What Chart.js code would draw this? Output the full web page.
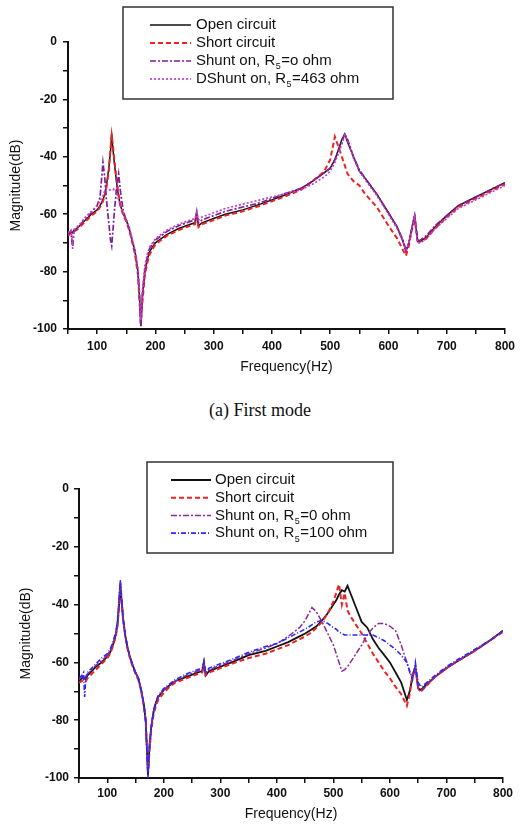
<!DOCTYPE html>
<html>
<head>
<meta charset="utf-8">
<script src="https://cdn.jsdelivr.net/npm/chart.js@4.4.0/dist/chart.umd.min.js"></script>
<style>
    body { margin: 0; background: #fff; width: 520px; height: 825px; overflow: hidden; position: relative; }
    .panel { position: absolute; left: 0; width: 520px; height: 385px; }
    #panelTop { top: 0; }
    #panelBottom { top: 440px; }
    #caption { position: absolute; top: 400px; left: 0; width: 520px; text-align: center; line-height: 22px;
               font: 18px "Liberation Serif", "Times New Roman", serif; color: #111; }
</style>
</head>
<body>
<div class="panel" id="panelTop"><canvas id="firstModeChart" width="520" height="385"></canvas></div>
<div id="caption">(a) First mode</div>
<div class="panel" id="panelBottom"><canvas id="secondModeChart" width="520" height="385"></canvas></div>
<script>
// ---- (a) first mode ----
const freqA = [50, 55, 58, 60, 65, 70, 80, 90, 100, 105, 110, 113, 116, 120, 123, 125, 127, 130, 134, 137,
    140, 145, 150, 155, 160, 165, 170, 173, 175, 178, 182, 186, 190, 200, 210, 220, 240, 260, 268, 271,
    274, 280, 300, 320, 350, 380, 400, 420, 450, 470, 490, 500, 508, 515, 520, 525, 530, 540, 550, 560,
    580, 600, 615, 625, 630, 635, 640, 645, 650, 655, 665, 680, 700, 720, 750, 780, 800];
const openA = [-67, -66, -66.5, -65.5, -65, -64, -62, -60, -58.5, -57, -55, -53, -50, -44, -38, -32, -37, -43, -50, -54,
    -57, -60, -62, -65, -69, -73, -80, -90, -99, -88, -80, -76, -73, -70, -68.5, -67, -65, -63.5, -63, -60,
    -64, -63, -61.5, -60, -58.5, -56.5, -55, -53.5, -51, -48.5, -45.5, -44, -41, -37, -34, -32, -35, -40, -45, -47.5,
    -53, -59.5, -64.5, -69.5, -73, -70, -65, -60.5, -69.5, -69.5, -68, -64.5, -60.5, -57, -54, -51, -49];
const shortA = [-67.5, -66.5, -66, -66, -65.5, -64.5, -62.5, -60.5, -59, -57.5, -55.5, -53.5, -50.5, -45, -37, -32.5, -36, -42, -49, -53.5,
    -57, -60.5, -62.5, -65.5, -69.5, -74, -81, -91, -98, -90, -81, -77, -74, -70.5, -69, -67.5, -65.5, -64, -63.5, -61,
    -64.5, -63.5, -62, -60.5, -59, -57, -55.5, -54, -51.5, -48.5, -45, -41, -33, -37, -40, -43, -46, -48.5, -50, -53,
    -57.5, -64, -68.5, -72.5, -74.5, -71, -65.5, -62, -69, -69.5, -68.5, -65, -61, -57.5, -54.5, -51.5, -49.5];
const shuntA = [-67, -66, -72, -66, -65, -64, -61.5, -59.5, -57, -54, -42, -47, -55, -63, -69, -71, -66, -58, -50, -46,
    -52, -59, -62, -65, -69, -73, -80, -90, -99, -87, -79, -75, -72, -69, -67.5, -66, -64, -62.5, -62, -59,
    -63, -62, -60.5, -59, -57.5, -56, -54.5, -53, -51, -48.5, -45.5, -44, -41, -37.5, -35, -32, -34, -40, -44.5, -47.5,
    -53, -59.5, -64.5, -69, -72.5, -70, -65, -60, -69.5, -69, -67.5, -64, -60.5, -57, -54, -51, -49];
const dshuntA = [-66.5, -65.5, -71, -65.5, -64.5, -63.5, -61, -59, -57, -55.5, -53.5, -52, -51, -51.5, -51.5, -51.5, -51.5, -51, -53, -55,
    -57, -60, -62, -64.5, -68.5, -72.5, -79, -88, -97, -86, -78, -74, -71.5, -68.5, -67, -65.5, -63.5, -62, -61.5, -59.5,
    -62, -61, -59.5, -58, -56.5, -55, -54, -53, -51.5, -49.5, -47, -45, -42, -38.5, -35.5, -32.5, -34.5, -40.5, -45, -48,
    -53.5, -60, -65, -69.5, -72.5, -70, -65, -60.5, -70, -70, -68.5, -65, -61.5, -58, -55, -52, -50];

// ---- second plot ----
const freqB = [50, 55, 58, 60, 62, 65, 70, 80, 90, 100, 105, 110, 115, 118, 121, 123, 125, 128, 132, 136,
    140, 145, 150, 155, 160, 165, 168, 172, 175, 178, 182, 186, 190, 200, 210, 220, 240, 260, 268, 271,
    274, 280, 300, 320, 350, 380, 400, 420, 440, 450, 462, 470, 480, 490, 500, 505, 510, 515, 520, 525,
    530, 540, 550, 560, 570, 580, 590, 600, 610, 620, 630, 635, 640, 645, 650, 655, 665, 680, 700, 720,
    750, 780, 800];
const openB = [-66.5, -65.5, -65, -65.5, -66, -64.5, -63.5, -61.5, -60, -58, -56.5, -54, -50.5, -47, -40, -33, -38, -45, -51, -55,
    -58, -61, -63.5, -65.5, -69.5, -75, -80, -99, -88, -82, -77, -74, -72, -69.5, -68, -66.5, -65, -63.5, -63, -60,
    -64.5, -63, -61.5, -60, -57.5, -56, -54.5, -53, -51, -50, -48.5, -47.5, -45.5, -43, -40, -38.5, -36.5, -35, -35.5, -33.5,
    -36, -41, -46, -48, -52, -55, -57.5, -60, -63.5, -67, -73, -70, -65, -61.5, -69, -69.5, -67.5, -65, -62, -59.5,
    -56, -52, -49];
const shortB = [-67, -66.5, -66, -66, -66.5, -65.5, -64.5, -62.5, -60.5, -58.5, -57, -54.5, -51, -47.5, -40, -32, -37, -45, -51, -55.5,
    -58.5, -61.5, -64, -66, -70, -75.5, -80, -97, -90, -83, -78, -75, -73, -70.5, -68.5, -67, -65.5, -64, -63.5, -61,
    -64.5, -63.5, -62, -60.5, -58.5, -57, -55.5, -54, -52, -51, -49.5, -48, -46, -43, -39, -36, -33, -40, -36, -42,
    -44, -47, -50, -53.5, -57, -60, -63, -65.5, -68.5, -71, -75, -71, -64, -62, -69, -70, -68, -65, -62, -59.5,
    -56, -52, -49.5];
const shuntB = [-66, -65, -64.5, -65, -65.5, -64, -63, -61, -59.5, -57.5, -56, -53.5, -50, -46.5, -39.5, -33, -38, -45, -51, -55,
    -58, -61, -63.5, -65.5, -69.5, -75, -80, -99, -88, -82, -77, -74, -72, -69.5, -68, -66.5, -64.5, -63, -62.5, -60,
    -64, -62.5, -61, -59.5, -57, -55, -53.5, -51, -48, -45.5, -41, -42.5, -46, -50, -54, -57, -60, -63, -62.5, -61.5,
    -60, -57, -54, -50.5, -48, -46.5, -46.5, -47.5, -49, -54, -60, -63.5, -65.5, -62, -69.5, -70, -68, -65, -62, -59.5,
    -56, -52, -49];
const shunt100B = [-65.5, -64.5, -63.5, -72, -65, -63.5, -62.5, -60.5, -58.5, -57, -55.5, -53, -49.5, -46, -38, -31.5, -37, -44.5, -50.5, -55,
    -58, -61, -63.5, -65.5, -69.5, -75, -81, -100, -89, -82, -76.5, -73.5, -71.5, -69, -67.5, -66, -64, -62.5, -62, -59.5,
    -63.5, -62, -60.5, -59, -56.5, -54.5, -53.5, -51.5, -49.5, -48.5, -47, -46, -45.5, -46.5, -48, -48.5, -49.5, -50, -50.5, -50.5,
    -50.5, -50.5, -50.5, -50.5, -50.5, -51.5, -52.5, -54, -55.5, -57.5, -60, -63, -66, -60, -67, -68.5, -67, -64.5, -61.5, -59,
    -55.5, -52, -49];

const freqTicks = [100, 200, 300, 400, 500, 600, 700, 800];
const magTicks = [0, -20, -40, -60, -80, -100];

const toPoints = (xs, ys) => xs.map((x, i) => ({ x: x, y: ys[i] }));

Chart.defaults.font.family = "'Liberation Sans', Arial, sans-serif";
Chart.defaults.color = '#111';

// legend drawn inside the figure, with the subscript of R5
const legendBox = {
    id: 'legendBox',
    afterDraw(chart, args, opts) {
        const ctx = chart.ctx;
        ctx.save();
        ctx.strokeStyle = '#333';
        ctx.lineWidth = 1.5;
        ctx.strokeRect(opts.x, opts.y, opts.w, opts.h);
        ctx.textBaseline = 'middle';
        chart.data.datasets.forEach((ds, i) => {
            const y = opts.y + opts.first + i * opts.step;
            ctx.beginPath();
            ctx.setLineDash(ds.borderDash || []);
            ctx.strokeStyle = ds.borderColor;
            ctx.lineWidth = ds.borderWidth;
            ctx.moveTo(opts.lineX, y);
            ctx.lineTo(opts.lineX + opts.lineW, y);
            ctx.stroke();
            ctx.setLineDash([]);

            ctx.fillStyle = '#111';
            let x = opts.lineX + opts.lineW + opts.gap;
            const parts = ds.label.split('\u2085');
            ctx.font = "15px 'Liberation Sans', Arial, sans-serif";
            ctx.fillText(parts[0], x, y);
            x += ctx.measureText(parts[0]).width;
            if (parts.length > 1) {
                ctx.font = "9px 'Liberation Sans', Arial, sans-serif";
                ctx.fillText('5', x + 0.5, y + 6);
                x += ctx.measureText('5').width + 1;
                ctx.font = "15px 'Liberation Sans', Arial, sans-serif";
                ctx.fillText(parts[1], x, y);
            }
        });
        ctx.restore();
    }
};

function axes(box) {
    return {
        x: {
            type: 'linear', min: 50, max: 800,
            afterFit: s => { s.height = box.xHeight; },
            border: { display: true, color: '#111', width: 2 },
            grid: { drawOnChartArea: false, drawTicks: true, tickLength: 5, color: '#111', lineWidth: 1.5 },
            ticks: {
                stepSize: 50, autoSkip: false, maxRotation: 0, padding: box.xPad,
                font: { size: 12, weight: 'bold' },
                callback: v => freqTicks.includes(v) ? String(v) : ''
            },
            title: { display: true, text: 'Frequency(Hz)', font: { size: 14 }, padding: { top: 0, bottom: box.xTitlePad } }
        },
        y: {
            min: -100, max: 0,
            afterFit: s => { s.width = box.yWidth; },
            border: { display: true, color: '#111', width: 2 },
            grid: { drawOnChartArea: false, drawTicks: true, tickLength: 5, color: '#111', lineWidth: 1.5 },
            ticks: {
                stepSize: 10, autoSkip: false, padding: box.yPad,
                font: { size: 12, weight: 'bold' },
                callback: v => magTicks.includes(v) ? String(v) : ''
            },
            title: { display: true, text: 'Magnitude(dB)', font: { size: 14 }, padding: { top: box.yTitlePad, bottom: 0 } }
        }
    };
}

function lineSet(label, xs, ys, color, width, dash, order) {
    return {
        label: label, data: toPoints(xs, ys), borderColor: color, backgroundColor: color,
        borderWidth: width, borderDash: dash, pointRadius: 0, tension: 0, fill: false, order: order
    };
}

new Chart(document.getElementById('firstModeChart'), {
    type: 'line',
    data: {
        datasets: [
            lineSet('Open circuit', freqA, openA, '#111111', 1.5, [], 3),
            lineSet('Short circuit', freqA, shortA, '#ee2222', 2, [5, 3], 2),
            lineSet('Shunt on, R\u2085=o ohm', freqA, shuntA, '#7e1f9c', 1.7, [6, 2, 2, 2], 1),
            lineSet('DShunt on, R\u2085=463 ohm', freqA, dshuntA, '#c040c8', 1.7, [2, 2], 0)
        ]
    },
    options: {
        responsive: false,
        animation: false,
        layout: { padding: { top: 42, right: 11, bottom: 0, left: 0 } },
        plugins: {
            legend: { display: false },
            tooltip: { enabled: false },
            legendBox: { x: 123, y: 7, w: 270, h: 92, lineX: 150, lineW: 41, gap: 5, first: 18, step: 18 }
        },
        scales: axes({ xHeight: 56, yWidth: 68, xPad: 5, yPad: 6, xTitlePad: 9, yTitlePad: 8 })
    },
    plugins: [legendBox]
});

new Chart(document.getElementById('secondModeChart'), {
    type: 'line',
    data: {
        datasets: [
            lineSet('Open circuit', freqB, openB, '#111111', 1.8, [], 3),
            lineSet('Short circuit', freqB, shortB, '#ee2222', 2, [5, 3], 2),
            lineSet('Shunt on, R\u2085=0 ohm', freqB, shuntB, '#8a2aa0', 1.5, [6, 2, 2, 2], 1),
            lineSet('Shunt on, R\u2085=100 ohm', freqB, shunt100B, '#2a2aff', 1.6, [5, 2, 1, 2], 0)
        ]
    },
    options: {
        responsive: false,
        animation: false,
        layout: { padding: { top: 49, right: 17, bottom: 0, left: 0 } },
        plugins: {
            legend: { display: false },
            tooltip: { enabled: false },
            legendBox: { x: 147, y: 22, w: 246, h: 91, lineX: 171, lineW: 40, gap: 4, first: 18, step: 17.7 }
        },
        scales: axes({ xHeight: 47, yWidth: 79, xPad: 3, yPad: 5, xTitlePad: 2, yTitlePad: 18 })
    },
    plugins: [legendBox]
});
</script>
</body>
</html>
